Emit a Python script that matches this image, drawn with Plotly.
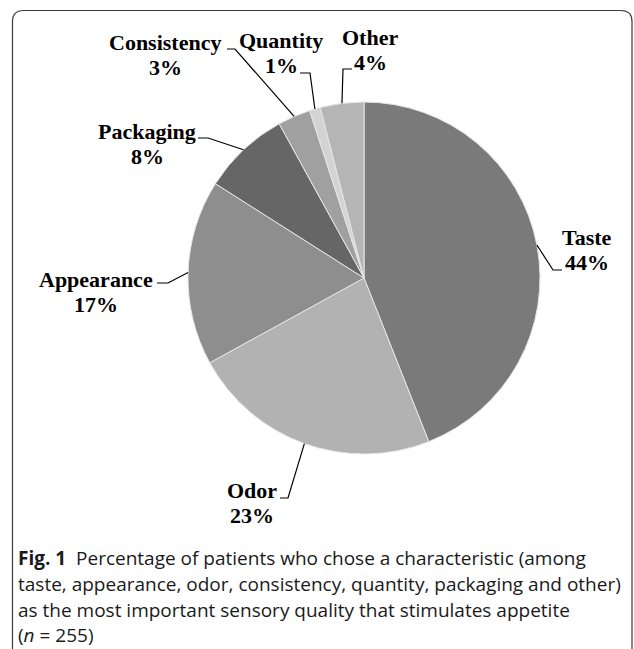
import math
import plotly.graph_objects as go

# ---------------- data ----------------
labels = ["Taste", "Odor", "Appearance", "Packaging", "Consistency", "Quantity", "Other"]
values = [44, 23, 17, 8, 3, 1, 4]
pct_text = ["44%", "23%", "17%", "8%", "3%", "1%", "4%"]
colors = ["#7a7a7a", "#b2b2b2", "#8e8e8e", "#666666", "#a0a0a0", "#d3d3d3", "#b5b5b5"]

caption_lines = [
    "<b>Fig. 1</b>\u00a0\u00a0Percentage of patients who chose a characteristic (among",
    "taste, appearance, odor, consistency, quantity, packaging and other)",
    "as the most important sensory quality that stimulates appetite",
    "(<i>n</i> = 255)",
]

# ---------------- layout (pixels) ----------------
W, H = 634, 649
CX, CY, R = 364, 278, 176
LINE_GAP = 25

# label block centre, horizontal tick (anchor -> elbow) at text side
label_center = [(587, 250), (252, 503), (96, 292), (147, 144), (165, 55), (281, 53), (370, 50)]
tick_anchor = [(562, 270), (280, 498), (157, 283), (198, 138), (227, 49), (300, 73), (352, 69)]
tick_elbow = [(553, 270), (288, 498), (168, 283), (208, 138), (235, 49), (310, 73), (343, 69)]


def px(x):
    return x / W


def py(y):
    return 1 - y / H


fig = go.Figure()
fig.add_trace(go.Pie(
    labels=labels, values=values, sort=False, direction="clockwise", rotation=0,
    marker=dict(colors=colors, line=dict(color="#e6e6e6", width=1)),
    textinfo="none", hoverinfo="label+percent", showlegend=False,
    domain=dict(x=[px(CX - R), px(CX + R)], y=[py(CY + R), py(CY - R)]),
))

shapes = []
total = sum(values)
cum = 0
annotations = []
for i, v in enumerate(values):
    mid = (cum + v / 2) / total * 2 * math.pi
    cum += v
    ex, ey = CX + R * math.sin(mid), CY - R * math.cos(mid)
    ax, ay = tick_anchor[i]
    bx, by = tick_elbow[i]
    shapes.append(dict(
        type="path", xref="paper", yref="paper",
        path=f"M {px(ax)},{py(ay)} L {px(bx)},{py(by)} L {px(ex)},{py(ey)}",
        line=dict(color="black", width=1.2),
    ))
    lx, ly = label_center[i]
    for txt, dy in ((labels[i], -LINE_GAP / 2), (pct_text[i], LINE_GAP / 2)):
        annotations.append(dict(
            x=px(lx), y=py(ly + dy), xref="paper", yref="paper", showarrow=False,
            xanchor="center", yanchor="middle", align="center",
            text=f"<b>{txt}</b>",
            font=dict(family="Liberation Serif", size=22, color="black"),
        ))

# frame with rounded top corners
L, T, Rr, rad = 12.5, 10.5, 632, 11
shapes.append(dict(
    type="path", xref="paper", yref="paper",
    path=(f"M {px(L)},{py(H + 20)} L {px(L)},{py(T + rad)} "
          f"Q {px(L)},{py(T)} {px(L + rad)},{py(T)} L {px(Rr - rad)},{py(T)} "
          f"Q {px(Rr)},{py(T)} {px(Rr)},{py(T + rad)} L {px(Rr)},{py(H + 20)}"),
    line=dict(color="#3a3a3a", width=1.2),
))

cap_y = [558, 584, 610, 635]
for t, y in zip(caption_lines, cap_y):
    annotations.append(dict(
        x=px(16), y=py(y), xref="paper", yref="paper", showarrow=False,
        xanchor="left", yanchor="middle", align="left", text=t,
        font=dict(family="Open Sans", size=19, color="#1a1a1a"),
    ))

fig.update_layout(
    width=W, height=H, margin=dict(l=0, r=0, t=0, b=0),
    paper_bgcolor="white", plot_bgcolor="white",
    shapes=shapes, annotations=annotations,
)
fig.write_html("out.html")
